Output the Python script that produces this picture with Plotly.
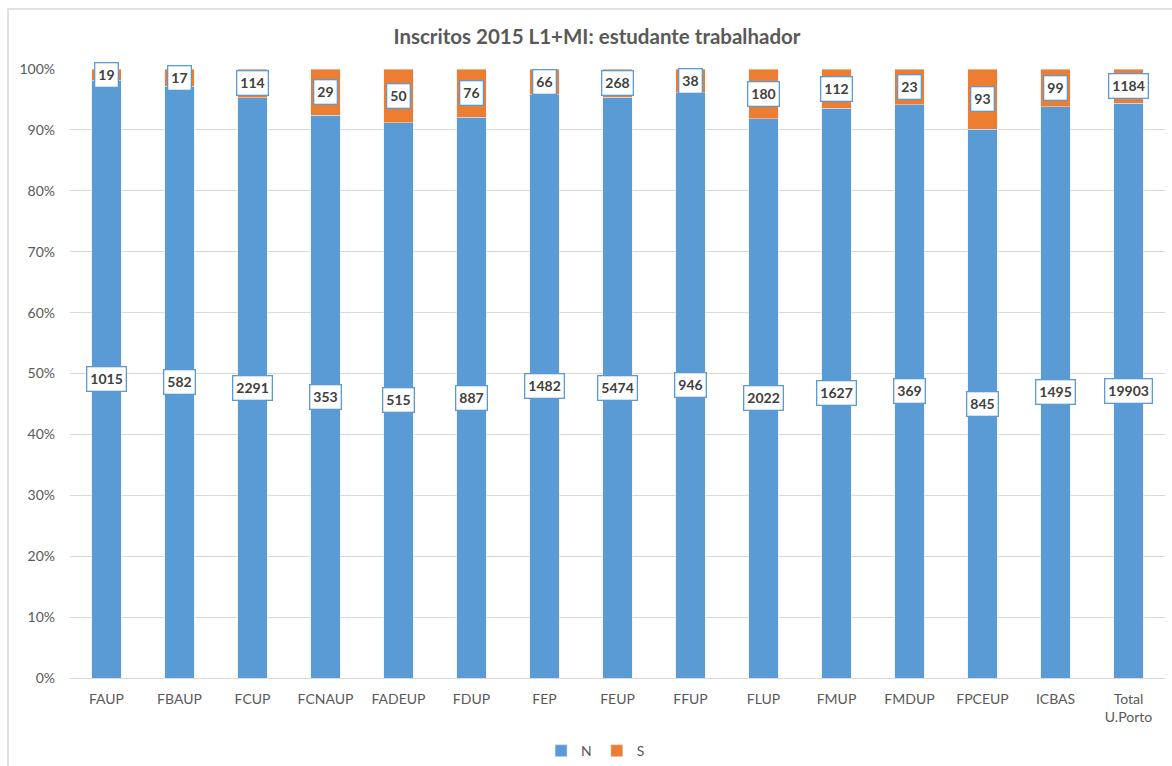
import plotly.graph_objects as go

categories = ["FAUP", "FBAUP", "FCUP", "FCNAUP", "FADEUP", "FDUP", "FEP", "FEUP",
              "FFUP", "FLUP", "FMUP", "FMDUP", "FPCEUP", "ICBAS", "Total<br>U.Porto"]
n_values = [1015, 582, 2291, 353, 515, 887, 1482, 5474, 946, 2022, 1627, 369, 845, 1495, 19903]
s_values = [19, 17, 114, 29, 50, 76, 66, 268, 38, 180, 112, 23, 93, 99, 1184]

totals = [n + s for n, s in zip(n_values, s_values)]
n_pct = [n / t for n, t in zip(n_values, totals)]
s_pct = [s / t for s, t in zip(s_values, totals)]

BLUE = "#5B9BD5"
ORANGE = "#ED7D31"
GRAY = "#595959"
FONT = "Lato"

fig = go.Figure()
fig.add_trace(go.Bar(x=categories, y=n_pct, name="N", marker_color=BLUE,
                     hoverinfo="skip"))
fig.add_trace(go.Bar(x=categories, y=s_pct, name="S", marker_color=ORANGE,
                     hoverinfo="skip"))

annotations = []
for c, n, s, np_, sp in zip(categories, n_values, s_values, n_pct, s_pct):
    for val, yc in ((n, np_ / 2), (s, np_ + sp / 2)):
        annotations.append(dict(
            x=c, y=yc, xref="x", yref="y", text=f"<b>{val}</b>", showarrow=False,
            font=dict(family=FONT, size=14, color="#404040"),
            bgcolor="white", bordercolor=BLUE, borderwidth=1.3, borderpad=3,
        ))

fig.update_layout(
    width=1172, height=766,
    margin=dict(l=70, r=7, t=69, b=88, autoexpand=False),
    paper_bgcolor="white", plot_bgcolor="white",
    barmode="stack", bargap=0.6,
    font=dict(family=FONT, color=GRAY, size=14),
    title=dict(text="<b>Inscritos 2015 L1+MI: estudante trabalhador</b>",
               x=597 / 1172, xref="container", xanchor="center",
               y=1 - 37 / 766, yref="container", yanchor="middle",
               font=dict(family=FONT, size=20.5, color=GRAY)),
    legend=dict(orientation="h", x=0.48, xanchor="center", y=-0.12, yanchor="middle",
                font=dict(size=14, color=GRAY), itemwidth=30, traceorder="normal"),
    annotations=annotations,
    shapes=[dict(type="rect", xref="paper", yref="paper",
                 x0=-62 / 1095, x1=1.2, y0=-0.5, y1=1 + 60 / 609,
                 line=dict(color="#D9D9D9", width=1.5), layer="below")],
    showlegend=True,
)
fig.update_yaxes(range=[0, 1], dtick=0.1, tickformat=".0%", showgrid=True,
                 gridcolor="#D9D9D9", gridwidth=1, zeroline=False, showline=False,
                 ticks="", ticklabelstandoff=14, tickfont=dict(size=14, color=GRAY),
                 fixedrange=True, automargin=False)
fig.update_xaxes(showline=True, linecolor="#D9D9D9", linewidth=1, ticks="",
                 tickfont=dict(size=14, color=GRAY), ticklabelstandoff=8,
                 fixedrange=True, automargin=False)

fig.write_html("out.html", config={"displayModeBar": False},
               post_script="document.body.style.margin='0';")
